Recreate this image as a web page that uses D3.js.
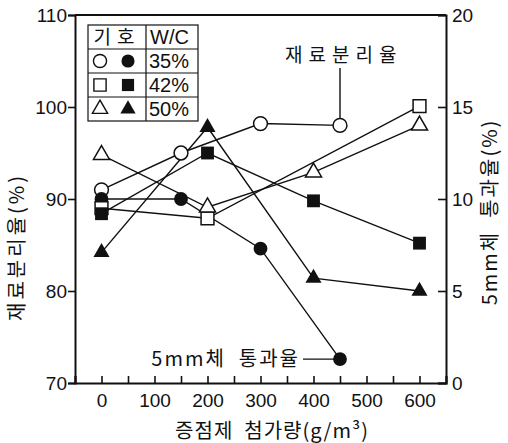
<html>
<head>
  <meta charset="utf-8">
  <style>
    body { margin: 0; background: white; }
    svg text { font-family: "Liberation Sans", Arial, sans-serif; fill: #111; white-space: pre; }
    .kr { font-family: "Noto Sans CJK KR", sans-serif; }
  </style>
</head>
<body>
  <svg id="chart"></svg>
  <script src="https://cdn.jsdelivr.net/npm/d3@7"></script>
  <script>
    // 데이터
    var wcLabels = ["35%", "42%", "50%"];
    var sepX = [[0, 150, 300, 450], [0, 200, 600], [0, 200, 400, 600]];        // 재료분리율 (open)
    var sepY = [[91, 95, 98.2, 98], [89, 87.9, 100.1], [94.8, 89.1, 92.9, 98]];
    var passX = [[0, 150, 300, 450], [0, 200, 400, 600], [0, 200, 400, 600]];  // 5mm체 통과율 (filled)
    var passY = [[10, 10, 7.3, 1.3], [9.2, 12.5, 9.9, 7.6], [7.1, 13.9, 5.7, 5.0]];
    var leftTicks = [70, 80, 90, 100, 110];
    var rightTicks = [0, 5, 10, 15, 20];
    var xTicks = [0, 100, 200, 300, 400, 500, 600];

    var width = 508, height = 443;
    var svg = d3.select("#chart").attr("width", width).attr("height", height);

    var x = d3.scaleLinear().domain([-50, 650]).range([75, 446]);
    var yL = d3.scaleLinear().domain([70, 110]).range([383, 15]);
    var yR = d3.scaleLinear().domain([0, 20]).range([383, 15]);

    var shapes = [d3.symbolCircle, d3.symbolSquare, d3.symbolTriangle];
    var sizes = [150, 165, 112];

    // 프레임 (위쪽 선)
    svg.append("line")
      .attr("x1", x(-50)).attr("x2", x(650))
      .attr("y1", yL(110)).attr("y2", yL(110))
      .attr("stroke", "#111").attr("stroke-width", 2);

    // 왼쪽 축
    var leftAxis = d3.axisLeft(yL).tickValues(leftTicks).tickSize(7).tickPadding(1);
    var gl = svg.append("g").attr("transform", "translate(" + x(-50) + ",0)").call(leftAxis);
    // 오른쪽 축 (눈금 안쪽)
    var rightAxis = d3.axisRight(yR).tickValues(rightTicks).tickSize(-8).tickPadding(6);
    var gr = svg.append("g").attr("transform", "translate(" + x(650) + ",0)").call(rightAxis);
    // 아래 축 (눈금 안쪽, 50 간격)
    var bottomAxis = d3.axisBottom(x).tickValues(d3.range(-50, 651, 50)).tickSize(-7).tickPadding(8)
      .tickFormat(function (d) { return xTicks.indexOf(d) >= 0 ? d : ""; });
    var gb = svg.append("g").attr("transform", "translate(0," + yL(70) + ")").call(bottomAxis);

    [gl, gr, gb].forEach(function (g) {
      g.select(".domain").attr("stroke", "#111").attr("stroke-width", 2);
      g.selectAll(".tick line").attr("stroke", "#111").attr("stroke-width", 1.6);
      g.selectAll(".tick text").attr("font-size", 19).attr("font-family", null).attr("fill", "#111");
    });
    gb.selectAll(".tick text").attr("dy", "0.85em");

    // 선
    var line = function (xs, ys, yScale) {
      return d3.line()(xs.map(function (v, i) { return [x(v), yScale(ys[i])]; }));
    };
    var lines = svg.append("g").attr("fill", "none").attr("stroke", "#111").attr("stroke-width", 1.4);
    for (var i = 0; i < 3; i++) {
      lines.append("path").attr("d", line(sepX[i], sepY[i], yL));
      lines.append("path").attr("d", line(passX[i], passY[i], yR));
    }

    // 주석 선
    lines.append("line")
      .attr("x1", x(450)).attr("x2", x(450))
      .attr("y1", 68).attr("y2", yL(98));
    lines.append("line")
      .attr("x1", 303).attr("x2", x(450))
      .attr("y1", yR(1.3)).attr("y2", yR(1.3));

    // 마커
    var marks = svg.append("g");
    for (var i = 0; i < 3; i++) {
      var sym = d3.symbol().type(shapes[i]).size(sizes[i]);
      sepX[i].forEach(function (v, j) {
        marks.append("path").attr("d", sym())
          .attr("transform", "translate(" + x(v) + "," + yL(sepY[i][j]) + ")")
          .attr("fill", "white").attr("stroke", "#111").attr("stroke-width", 1.5);
      });
      passX[i].forEach(function (v, j) {
        marks.append("path").attr("d", sym())
          .attr("transform", "translate(" + x(v) + "," + yR(passY[i][j]) + ")")
          .attr("fill", "#111");
      });
    }

    // 범례 표
    var legend = svg.append("g").attr("transform", "translate(88,25)");
    var lw = 110, rowH = 24, colX = 58;
    var lg = legend.append("g").attr("stroke", "#111").attr("stroke-width", 1.2).attr("fill", "none");
    lg.append("rect").attr("width", lw).attr("height", rowH * 4);
    for (var r = 1; r < 4; r++) {
      lg.append("line").attr("x1", 0).attr("x2", lw).attr("y1", r * rowH).attr("y2", r * rowH);
    }
    lg.append("line").attr("x1", colX).attr("x2", colX).attr("y1", 0).attr("y2", rowH * 4);
    legend.append("text").attr("class", "kr")
      .attr("x", colX / 2).attr("y", rowH / 2).attr("dy", "0.35em")
      .attr("text-anchor", "middle").attr("font-size", 19).attr("letter-spacing", 6)
      .text("기호");
    legend.append("text")
      .attr("x", colX + 4).attr("y", rowH / 2).attr("dy", "0.36em")
      .attr("font-size", 20).text("W/C");
    wcLabels.forEach(function (lab, i) {
      var cy = rowH * (i + 1.5);
      var sym = d3.symbol().type(shapes[i]).size(sizes[i] * 0.9);
      legend.append("path").attr("d", sym())
        .attr("transform", "translate(12," + cy + ")")
        .attr("fill", "white").attr("stroke", "#111").attr("stroke-width", 1.4);
      legend.append("path").attr("d", sym())
        .attr("transform", "translate(40," + cy + ")")
        .attr("fill", "#111");
      legend.append("text")
        .attr("x", colX + 3).attr("y", cy).attr("dy", "0.36em")
        .attr("font-size", 20).text(lab);
    });

    // 주석 글자
    svg.append("text").attr("class", "kr")
      .attr("x", 285).attr("y", 55).attr("dy", "0.35em")
      .attr("font-size", 19).attr("letter-spacing", 6)
      .text("재료분리율");
    svg.append("text").attr("class", "kr")
      .attr("x", 300).attr("y", yR(1.3)).attr("dy", "0.35em")
      .attr("text-anchor", "end").attr("font-size", 20).attr("letter-spacing", 2)
      .text("5mm체  통과율");

    // 축 제목
    svg.append("text").attr("class", "kr")
      .attr("transform", "translate(24,247) rotate(-90)")
      .attr("text-anchor", "middle").attr("font-size", 20).attr("letter-spacing", 3)
      .text("재료분리율(%)");
    svg.append("text").attr("class", "kr")
      .attr("transform", "translate(497,212) rotate(-90)")
      .attr("text-anchor", "middle").attr("font-size", 20).attr("letter-spacing", 2)
      .text("5mm체  통과율(%)");
    svg.append("text").attr("class", "kr")
      .attr("x", 272).attr("y", 438)
      .attr("text-anchor", "middle").attr("font-size", 20).attr("letter-spacing", 1)
      .text("증점제  첨가량(g/m³)");
  </script>
</body>
</html>
